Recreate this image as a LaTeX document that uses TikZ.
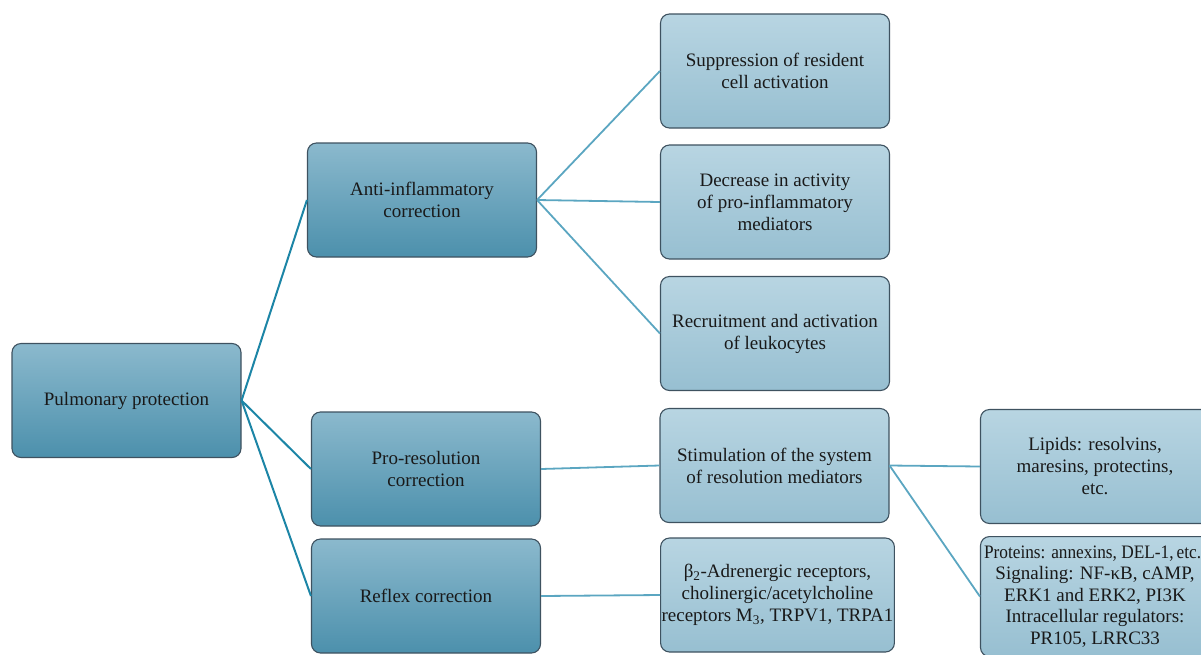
\documentclass[tikz,border=0pt]{standalone}
\usepackage{fontspec}
\setmainfont{Liberation Serif}
\definecolor{boxedge}{HTML}{3E5260}
\definecolor{darktop}{HTML}{8BB9CD}
\definecolor{darkbot}{HTML}{4C90AC}
\definecolor{lighttop}{HTML}{B8D5E2}
\definecolor{lightbot}{HTML}{97BFD1}
\definecolor{trunkline}{HTML}{1C85A6}
\definecolor{twigline}{HTML}{5BA6C1}

\begin{document}
\begin{tikzpicture}[x=1pt,y=-1pt,
	every node/.style={font=\fontsize{19}{22}\selectfont, align=center, text=black!90},
	topbox/.style={draw=boxedge, line width=1.1pt, rounded corners=9pt,
		minimum width=229pt, minimum height=114pt, inner sep=1pt,
		top color=darktop, bottom color=darkbot},
	subbox/.style={topbox, top color=lighttop, bottom color=lightbot},
	trunk/.style={draw=trunkline, line width=2pt},
	twig/.style={draw=twigline, line width=1.8pt}]
	\useasboundingbox (0,0) rectangle (1201,654);
	\clip (0,0) rectangle (1201,654);
	% first level
	\node[topbox] (pulm) at (126.5,400.5) {Pulmonary protection};
	\node[topbox] (anti) at (422,200) {Anti-inflammatory\\correction};
	\node[topbox] (prores) at (426,469) {Pro-resolution\\correction};
	\node[topbox] (reflex) at (426,596) {Reflex correction};
	% second level
	\node[subbox] (supp) at (775,71) {Suppression of resident\\cell activation};
	\node[subbox] (decr) at (775,202) {Decrease in activity\\of pro-inflammatory\\mediators};
	\node[subbox] (recr) at (775,333.5) {Recruitment and activation\\of leukocytes};
	\node[subbox] (stim) at (774.5,465.5) {Stimulation of the system\\of resolution mediators};
	\node[subbox] (recep) at (777.5,595) {β\textsubscript{2}-Adrenergic receptors,\\cholinergic/acetylcholine\\receptors M\textsubscript{3}, TRPV1, TRPA1};
	% third level
	\node[subbox] (lipid) at (1095,466.5) {Lipids: resolvins,\\maresins, protectins,\\etc.};
	\node[subbox, anchor=north, minimum height=120pt,
		font=\fontsize{19}{21.5}\selectfont] (prot) at (1095,536)
		{\makebox[222pt][l]{\scalebox{0.91}[1]{Proteins: annexins, DEL-1,\,etc.}}\\Signaling: NF-κB, cAMP,\\ERK1 and ERK2, PI3K\\Intracellular regulators:\\PR105, LRRC33};
	% connectors
	\foreach \n in {anti,prores,reflex}
		\draw[trunk] (pulm.east) -- (\n.west);
	\foreach \n in {supp,decr,recr}
		\draw[twig] (anti.east) -- (\n.west);
	\draw[twig] (prores.east) -- (stim.west);
	\draw[twig] (reflex.east) -- (recep.west);
	\draw[twig] (stim.east) -- (lipid.west);
	\draw[twig] (stim.east) -- (prot.west);
\end{tikzpicture}
\end{document}
